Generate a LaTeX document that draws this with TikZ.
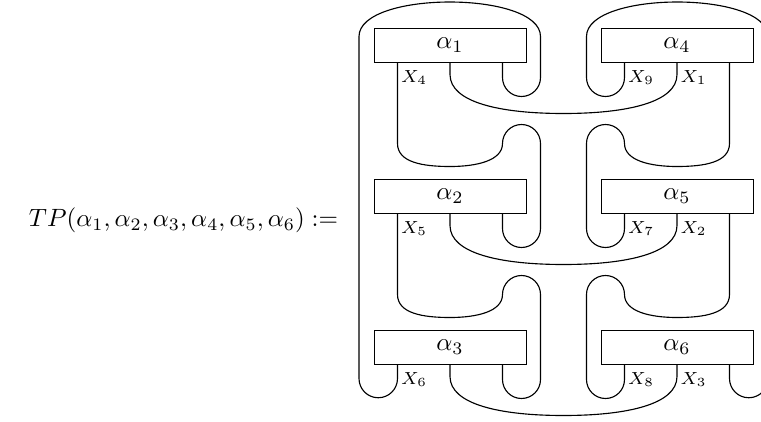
\documentclass[tikz,border=0pt]{standalone}
\usepackage{amsmath,amssymb}
\usepackage{tikz}
\usetikzlibrary{calc}
\tikzset{
  tbox/.style={draw, rectangle, minimum width=60.8pt, minimum height=13.6pt, inner sep=0pt, font=\normalsize},
  lbl/.style={anchor=north west, font=\scriptsize, inner xsep=1.2pt, inner ysep=0pt, yshift=-3pt},
  strand/.style={line width=0.45pt}
}

\begin{document}
\begin{tikzpicture}[x=0.4pt,y=0.4pt]
\useasboundingbox (0,0) rectangle (761,-421);
\node[anchor=east] (tp) at (347,-220) {$TP(\alpha_1,\alpha_2,\alpha_3,\alpha_4,\alpha_5,\alpha_6) :=$};

\node[tbox] (a1) at (450,-45) {$\alpha_1$};
\node[tbox] (a2) at (450,-196) {$\alpha_2$};
\node[tbox] (a3) at (450,-347) {$\alpha_3$};
\node[tbox] (a4) at (677,-45) {$\alpha_4$};
\node[tbox] (a5) at (677,-196) {$\alpha_5$};
\node[tbox] (a6) at (677,-347) {$\alpha_6$};
\foreach \n in {1,...,6} {
  \coordinate (a\n-l) at ($(a\n.south)+(-52.5,0)$);
  \coordinate (a\n-m) at (a\n.south);
  \coordinate (a\n-r) at ($(a\n.south)+(52.5,0)$);
}

\draw[strand] (a1-r) -- ++(0,-15) arc[start angle=180,end angle=360,radius=19] -- ++(0,41)
  .. controls +(0,46) and +(0,46) .. ++(-181.5,0) -- ++(0,-342)
  arc[start angle=180,end angle=360,radius=19.25] -- (a3-l);
\draw[strand] (a4-l) -- ++(0,-15) arc[start angle=0,end angle=-180,radius=19] -- ++(0,41)
  .. controls +(0,46) and +(0,46) .. ++(181.5,0) -- ++(0,-342)
  arc[start angle=0,end angle=-180,radius=19.25] -- (a6-r);

\foreach \i/\j in {1/2,2/3} {
  \draw[strand] (a\i-l) -- ++(0,-81) .. controls +(0,-19) and +(-27,0) .. ++(52.5,-23)
    .. controls +(27,0) and +(0,-17) .. ++(52.5,23) arc[start angle=180,end angle=0,radius=19]
    -- ++(0,-85) arc[start angle=0,end angle=-180,radius=19] -- (a\j-r);
}
\foreach \i/\j in {4/5,5/6} {
  \draw[strand] (a\i-r) -- ++(0,-81) .. controls +(0,-19) and +(27,0) .. ++(-52.5,-23)
    .. controls +(-27,0) and +(0,-17) .. ++(-52.5,23) arc[start angle=0,end angle=180,radius=19]
    -- ++(0,-85) arc[start angle=180,end angle=360,radius=19] -- (a\j-l);
}
\foreach \i/\j in {1/4,2/5,3/6} {
  \draw[strand] (a\i-m) -- ++(0,-12) .. controls +(0,-28) and +(-63,0) .. ++(113.5,-39)
    .. controls +(63,0) and +(0,-28) .. ++(113.5,39) -- (a\j-m);
}

\node[lbl] (x4) at (a1-l) {$X_4$};
\node[lbl] (x9) at (a4-l) {$X_9$};
\node[lbl] (x1) at (a4-m) {$X_1$};
\node[lbl] (x5) at (a2-l) {$X_5$};
\node[lbl] (x7) at (a5-l) {$X_7$};
\node[lbl] (x2) at (a5-m) {$X_2$};
\node[lbl] (x6) at (a3-l) {$X_6$};
\node[lbl] (x8) at (a6-l) {$X_8$};
\node[lbl] (x3) at (a6-m) {$X_3$};
\end{tikzpicture}
\end{document}
